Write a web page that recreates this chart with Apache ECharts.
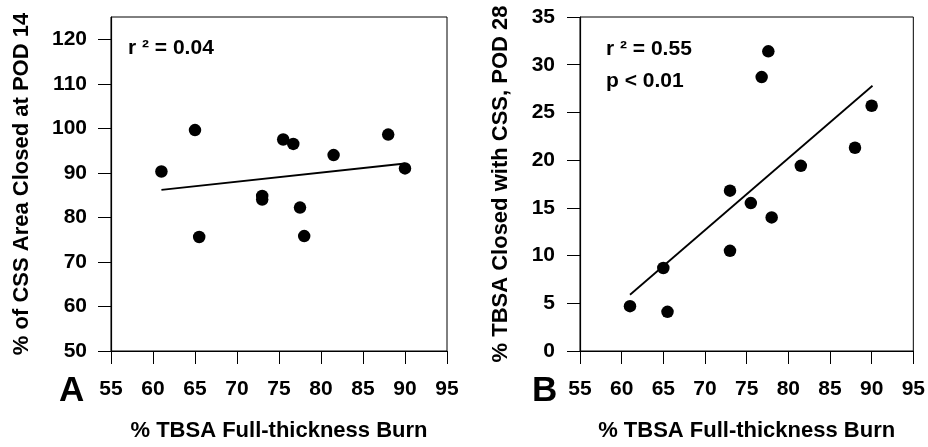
<!DOCTYPE html>
<html>
<head>
<meta charset="utf-8">
<script src="https://cdn.jsdelivr.net/npm/echarts@6/dist/echarts.min.js"></script>
<style>
  html, body { margin: 0; padding: 0; background: #fff; }
  #chart { width: 928px; height: 447px; }
</style>
</head>
<body>
<div id="chart"></div>
<script>
// burn size for each patient (same patients in both panels)
const burnA = [61, 65, 65.5, 73, 73, 75.5, 76.7, 77.5, 78, 81.5, 88, 90]
const cssClosedPod14 = [90.3, 99.6, 75.6, 84.8, 84.0, 97.5, 96.5, 82.2, 75.8, 94.0, 98.6, 91.0]

const burnB = [61, 65, 65.5, 73, 73, 75.5, 76.8, 77.6, 78, 81.5, 88, 90]
const tbsaClosedPod28 = [4.7, 8.7, 4.1, 16.8, 10.5, 15.5, 28.7, 31.4, 14.0, 19.4, 21.3, 25.7]

// fitted line ends as drawn in the figure
const fitA = [[61, 86.2], [90, 92.1]]
const fitB = [[61, 5.9], [90.1, 27.8]]

const xTicks = [55, 60, 65, 70, 75, 80, 85, 90, 95]
const yTicksA = [50, 60, 70, 80, 90, 100, 110, 120]

const font = 'Liberation Sans, Arial, sans-serif'

const chart = echarts.init(document.getElementById('chart'))

function xAxis(gridIndex) {
    return {
        type: 'value', gridIndex, min: 55, max: 95, interval: 5,
        name: '% TBSA Full-thickness Burn', nameLocation: 'middle', nameGap: 69,
        nameTextStyle: { color: '#000', fontFamily: font, fontWeight: 'bold', fontSize: 22 },
        axisLine: { show: true, lineStyle: { color: '#000', width: 1.2 } },
        axisTick: { show: true, length: 13, lineStyle: { color: '#000' } },
        axisLabel: { color: '#000', fontFamily: font, fontWeight: 'bold', fontSize: 21, margin: 28 },
        splitLine: { show: false }
    }
}

const grid = { show: true, borderColor: '#000', borderWidth: 1, top: 17, height: 336, width: 336 }

chart.setOption({
    animation: false,
    grid: [
        Object.assign({ left: 111 }, grid),
        Object.assign({ left: 580 }, grid)
    ],
    xAxis: [xAxis(0), xAxis(1)],
    yAxis: [
        {
            type: 'value', gridIndex: 0, min: 50, max: 125, interval: 10,
            name: '% of CSS Area Closed at POD 14', nameLocation: 'middle', nameGap: 78,
            nameTextStyle: { color: '#000', fontFamily: font, fontWeight: 'bold', fontSize: 22 },
            axisLine: { show: true, lineStyle: { color: '#000', width: 1.2 } },
            axisTick: { show: true, length: 13, customValues: yTicksA, lineStyle: { color: '#000' } },
            axisLabel: { color: '#000', fontFamily: font, fontWeight: 'bold', fontSize: 21, margin: 24, customValues: yTicksA },
            splitLine: { show: false }
        },
        {
            type: 'value', gridIndex: 1, min: 0, max: 35, interval: 5,
            name: '% TBSA Closed with CSS, POD 28', nameLocation: 'middle', nameGap: 68,
            nameTextStyle: { color: '#000', fontFamily: font, fontWeight: 'bold', fontSize: 22 },
            axisLine: { show: true, lineStyle: { color: '#000', width: 1.2 } },
            axisTick: { show: true, length: 13, lineStyle: { color: '#000' } },
            axisLabel: { color: '#000', fontFamily: font, fontWeight: 'bold', fontSize: 21, margin: 25 },
            splitLine: { show: false }
        }
    ],
    series: [
        {
            type: 'scatter', xAxisIndex: 0, yAxisIndex: 0, symbolSize: 12.5,
            itemStyle: { color: '#000', opacity: 1 },
            data: burnA.map((x, i) => [x, cssClosedPod14[i]])
        },
        {
            type: 'line', xAxisIndex: 0, yAxisIndex: 0, symbol: 'none',
            lineStyle: { color: '#000', width: 1.8 }, data: fitA
        },
        {
            type: 'scatter', xAxisIndex: 1, yAxisIndex: 1, symbolSize: 12.5,
            itemStyle: { color: '#000', opacity: 1 },
            data: burnB.map((x, i) => [x, tbsaClosedPod28[i]])
        },
        {
            type: 'line', xAxisIndex: 1, yAxisIndex: 1, symbol: 'none',
            lineStyle: { color: '#000', width: 1.8 }, data: fitB
        }
    ],
    graphic: [
        { type: 'text', left: 128, top: 38, style: { text: 'r ² = 0.04', fill: '#000', font: 'bold 21px ' + font } },
        { type: 'text', left: 606, top: 39, style: { text: 'r ² = 0.55', fill: '#000', font: 'bold 21px ' + font } },
        { type: 'text', left: 606, top: 71, style: { text: 'p < 0.01', fill: '#000', font: 'bold 21px ' + font } },
        { type: 'text', left: 59, top: 374, style: { text: 'A', fill: '#000', font: 'bold 35px ' + font } },
        { type: 'text', left: 532, top: 374, style: { text: 'B', fill: '#000', font: 'bold 35px ' + font } }
    ]
})
</script>
</body>
</html>
